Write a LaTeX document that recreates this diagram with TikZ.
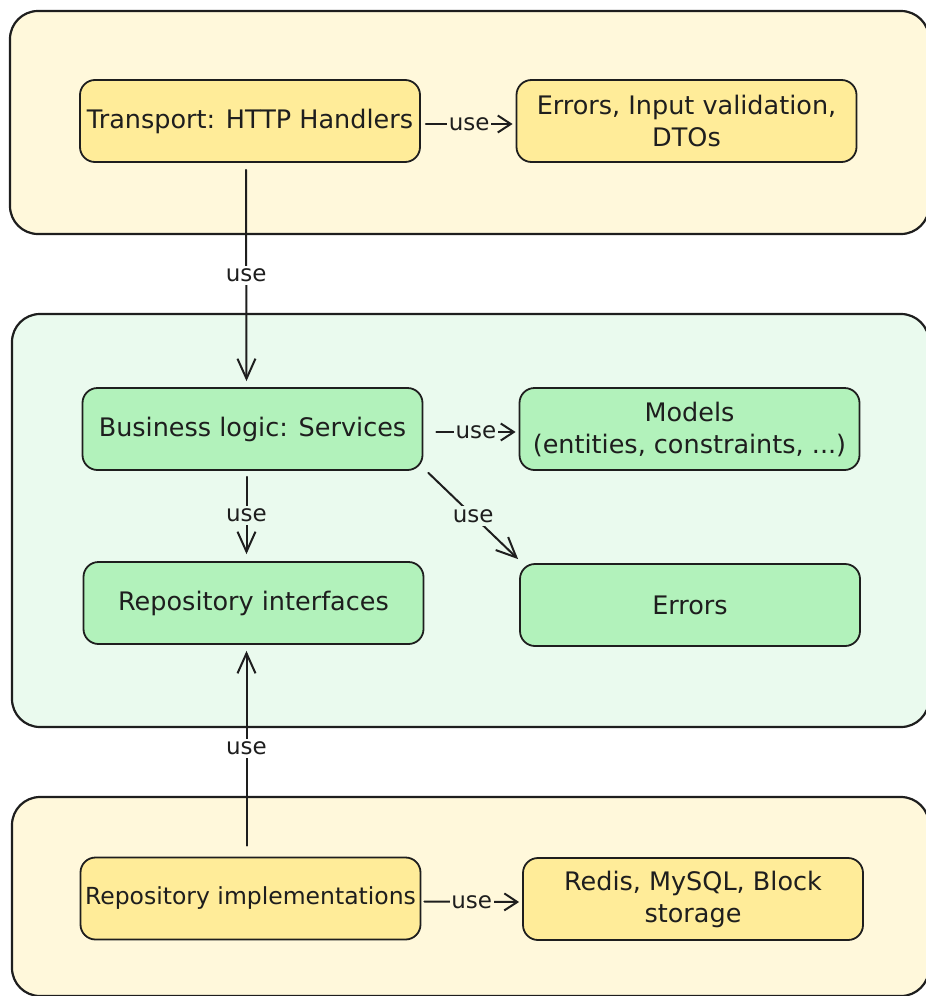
\documentclass[tikz,border=0pt]{standalone}
\usepackage{fontspec}
\setmainfont{DejaVu Sans}
\usetikzlibrary{arrows.meta,calc}

\definecolor{ink}{HTML}{1E1E1E}
\definecolor{layerY}{HTML}{FFF8DB}
\definecolor{layerG}{HTML}{EAFAEE}
\definecolor{boxY}{HTML}{FFEC99}
\definecolor{boxG}{HTML}{B2F2BB}

\tikzset{
  layer/.style={draw=ink, line width=2.2pt, rounded corners=28pt},
  card/.style={draw=ink, line width=1.8pt, rounded corners=15pt,
    minimum width=340pt, minimum height=82pt, align=center,
    inner sep=0pt, font=\fontsize{25.5}{32}\selectfont, text=ink},
  cardY/.style={card, fill=boxY},
  cardG/.style={card, fill=boxG},
  uses/.style={draw=ink, line width=2pt, line cap=round,
    -{Straight Barb[length=20pt,width=18pt,line width=2pt]}},
  usesshort/.style={draw=ink, line width=2pt, line cap=round,
    -{Straight Barb[length=13pt,width=17pt,line width=2pt]}},
  tag/.style={font=\fontsize{23}{26}\selectfont, text=ink,
    inner xsep=1.5pt, inner ysep=3pt}
}

\begin{document}
\begin{tikzpicture}[x=1pt,y=-1pt]
  \useasboundingbox (0,0) rectangle (926,996);
  \clip (0,0) rectangle (926,996);

  % layer containers
  \draw[layer, fill=layerY] (10,11) rectangle (929,234);
  \draw[layer, fill=layerG] (12,314) rectangle (929,727);
  \draw[layer, fill=layerY] (12,797) rectangle (929,996);

  % transport layer
  \node[cardY] (transport) at (250,121) {Transport: HTTP Handlers};
  \node[cardY] (dto) at (686.5,121) {Errors, Input validation,\\DTOs};

  % business layer
  \node[cardG] (services) at (252.5,429) {Business logic: Services};
  \node[cardG] (models) at (689.5,429) {Models\\(entities, constraints, ...)};
  \node[cardG] (repoif) at (253.5,603) {Repository interfaces};
  \node[cardG] (errors) at (690,605) {Errors};

  % storage layer
  \node[cardY, font=\fontsize{23.5}{32}\selectfont] (repoimpl) at (250.5,898.5) {Repository implementations};
  \node[cardY] (storage) at (693,899) {Redis, MySQL, Block\\storage};

  % dependencies
  \draw[usesshort] ([shift={(5pt,-3pt)}]transport.east) -- ([shift={(-3pt,-3pt)}]dto.west)
    node[tag, midway, fill=layerY] {use};
  \draw[uses] ([shift={(-4pt,-7pt)}]transport.south) -- ([shift={(-6pt,6pt)}]services.north)
    node[tag, midway, fill=white] {use};
  \draw[usesshort] ([shift={(13pt,-3pt)}]services.east) -- ([shift={(-3pt,-3pt)}]models.west)
    node[tag, midway, fill=layerG] {use};
  \draw[uses] ([shift={(-6pt,-6pt)}]services.south) -- ([shift={(-7pt,7pt)}]repoif.north)
    node[tag, midway, fill=layerG] {use};
  \draw[uses] ([shift={(5pt,-2pt)}]services.south east) -- ([shift={(-1pt,4pt)}]errors.north west)
    node[tag, midway, fill=layerG] {use};
  \draw[uses] ([shift={(-4pt,11pt)}]repoimpl.north) -- ([shift={(-7pt,-6pt)}]repoif.south)
    node[tag, midway, fill=white] {use};
  \draw[usesshort] ([shift={(3pt,-3pt)}]repoimpl.east) -- ([shift={(-3pt,-3pt)}]storage.west)
    node[tag, midway, fill=layerY] {use};
\end{tikzpicture}
\end{document}
